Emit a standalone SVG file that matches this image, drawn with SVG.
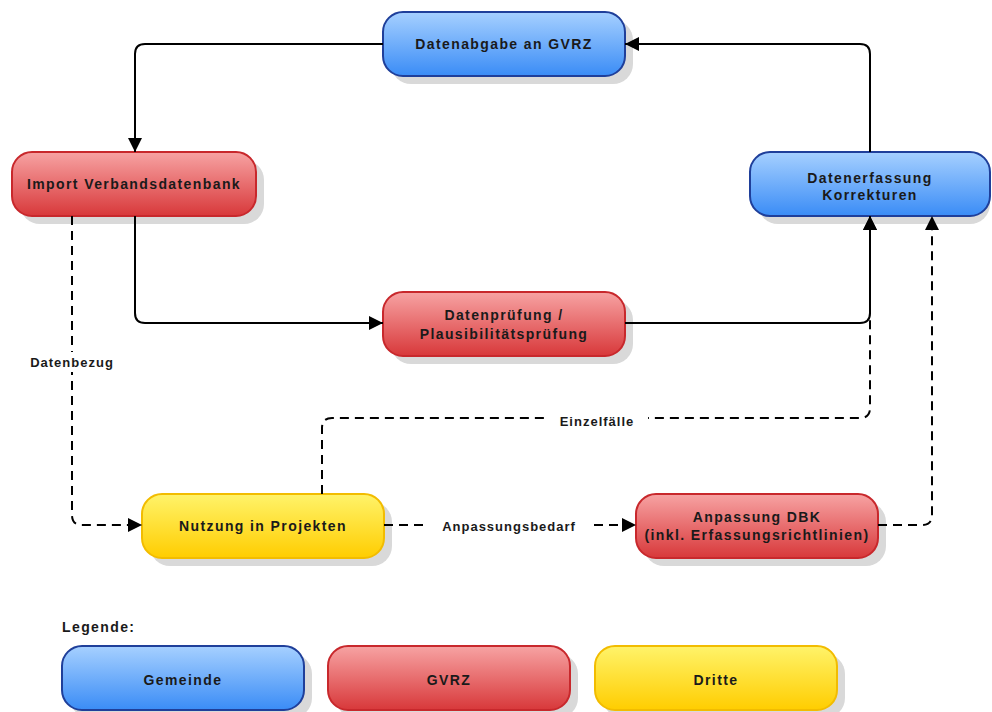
<svg xmlns="http://www.w3.org/2000/svg" width="992" height="712" viewBox="0 0 992 712">
<defs>
<linearGradient id="gb" x1="0" y1="0" x2="0" y2="1"><stop offset="0" stop-color="#a6d0ff"/><stop offset="1" stop-color="#3a8cf6"/></linearGradient>
<linearGradient id="gr" x1="0" y1="0" x2="0" y2="1"><stop offset="0" stop-color="#f7a3a3"/><stop offset="1" stop-color="#d8383a"/></linearGradient>
<linearGradient id="gy" x1="0" y1="0" x2="0" y2="1"><stop offset="0" stop-color="#fff36a"/><stop offset="1" stop-color="#ffcd00"/></linearGradient>
<marker id="ah" viewBox="0 0 14 14" refX="14" refY="7" markerWidth="14" markerHeight="14" markerUnits="userSpaceOnUse" orient="auto"><path d="M0,0 L14,7 L0,14 Z" fill="#000"/></marker>
</defs>
<style>
.sh{fill:#d9d9d9}
.b{fill:url(#gb);stroke:#1f3f9a;stroke-width:2}
.r{fill:url(#gr);stroke:#c8282c;stroke-width:2}
.y{fill:url(#gy);stroke:#f2bc00;stroke-width:2}
text{font-family:"Liberation Sans",Arial,sans-serif;font-weight:bold;font-size:14px;letter-spacing:1.4px;fill:#1a1a1a;text-anchor:middle}
.lbl{letter-spacing:1px;font-size:13px}
.c{fill:none;stroke:#000;stroke-width:2}
.d{stroke-dasharray:9,6}
</style>
<rect width="992" height="712" fill="#fff"/>
<g id="n1"><rect class="sh" x="391" y="20" width="242" height="64" rx="20"/><rect class="b" x="383" y="12" width="242" height="64" rx="20"/><text x="504" y="49">Datenabgabe an GVRZ</text></g>
<g id="n2"><rect class="sh" x="20" y="160" width="244" height="64" rx="20"/><rect class="r" x="12" y="152" width="244" height="64" rx="20"/><text x="134" y="189">Import Verbandsdatenbank</text></g>
<g id="n3"><rect class="sh" x="758" y="160" width="232" height="64" rx="20"/><rect class="b" x="750" y="152" width="240" height="64" rx="20"/><text x="870" y="183">Datenerfassung</text><text x="870" y="200">Korrekturen</text></g>
<g id="n4"><rect class="sh" x="391" y="300" width="242" height="64" rx="20"/><rect class="r" x="383" y="292" width="242" height="64" rx="20"/><text x="504" y="320">Datenprüfung /</text><text x="504" y="339">Plausibilitätsprüfung</text></g>
<g id="n5"><rect class="sh" x="150" y="502" width="242" height="64" rx="20"/><rect class="y" x="142" y="494" width="242" height="64" rx="20"/><text x="263" y="531">Nutzung in Projekten</text></g>
<g id="n6"><rect class="sh" x="644" y="502" width="242" height="64" rx="20"/><rect class="r" x="636" y="494" width="242" height="64" rx="20"/><text x="757" y="522">Anpassung DBK</text><text x="757" y="540">(inkl. Erfassungsrichtlinien)</text></g>
<g id="connectors">
<path class="c" d="M383,44 H145 Q135,44 135,54 V152" marker-end="url(#ah)"/>
<path class="c" d="M870,152 V54 Q870,44 860,44 H625" marker-end="url(#ah)"/>
<path class="c" d="M135,216 V313 Q135,323 145,323 H383" marker-end="url(#ah)"/>
<path class="c" d="M625,323 H860 Q870,323 870,313 V216" marker-end="url(#ah)"/>
<path class="c d" d="M72,216 V515 Q72,525 82,525 H142" marker-end="url(#ah)"/>
<path class="c d" d="M322,494 V428 Q322,418 332,418 H860 Q870,418 870,408 V216" marker-end="url(#ah)"/>
<path class="c d" d="M384,525 H636" marker-end="url(#ah)"/>
<path class="c d" d="M878,525 H922 Q932,525 932,515 V216" marker-end="url(#ah)"/>
<rect x="20" y="352" width="104" height="20" fill="#fff"/>
<text class="lbl" x="72" y="367">Datenbezug</text>
<rect x="546" y="410" width="102" height="20" fill="#fff"/>
<text class="lbl" x="597" y="426">Einzelfälle</text>
<rect x="428" y="516" width="162" height="20" fill="#fff"/>
<text class="lbl" x="509" y="531">Anpassungsbedarf</text>
</g>
<g id="legend">
<text x="62" y="632" style="text-anchor:start">Legende:</text>
<g id="lg1"><rect class="sh" x="70" y="654" width="242" height="64" rx="20"/><rect class="b" x="62" y="646" width="242" height="64" rx="20"/><text x="183" y="685">Gemeinde</text></g>
<g id="lg2"><rect class="sh" x="336" y="654" width="242" height="64" rx="20"/><rect class="r" x="328" y="646" width="242" height="64" rx="20"/><text x="449" y="685">GVRZ</text></g>
<g id="lg3"><rect class="sh" x="603" y="654" width="242" height="64" rx="20"/><rect class="y" x="595" y="646" width="242" height="64" rx="20"/><text x="716" y="685">Dritte</text></g>
</g>
</svg>
